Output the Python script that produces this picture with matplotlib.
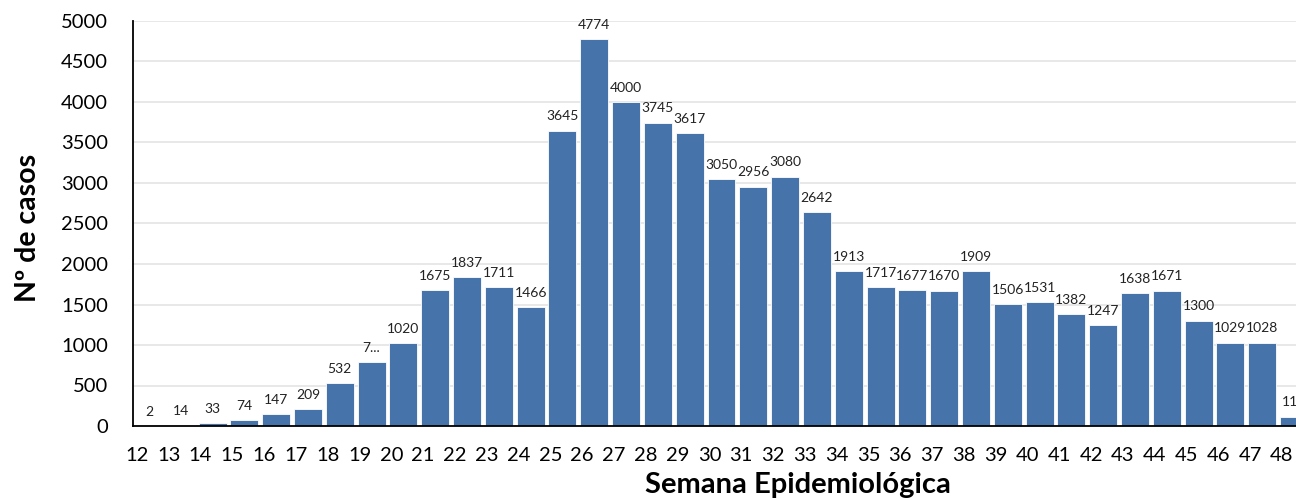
import matplotlib.pyplot as plt
import numpy as np

weeks = [str(w) for w in range(12, 49)]
cases = [2, 14, 33, 74, 147, 209, 532, 785, 1020, 1675, 1837, 1711, 1466,
         3645, 4774, 4000, 3745, 3617, 3050, 2956, 3080, 2642, 1913, 1717,
         1677, 1670, 1909, 1506, 1531, 1382, 1247, 1638, 1671, 1300, 1029,
         1028, 117]
bar_labels = [str(v) for v in cases]
bar_labels[7] = "7..."

plt.rcParams["font.family"] = ["Lato", "DejaVu Sans"]

fig = plt.figure(figsize=(12.96, 4.99), dpi=100)
ax = fig.add_axes([133 / 1296, 73 / 499, 1177 / 1296, 405 / 499])

x = np.arange(len(cases))
ax.bar(x, cases, width=0.88, color="#4673A9", edgecolor="white", linewidth=0.6, zorder=2)

for xi, v, lab in zip(x, cases, bar_labels):
    ax.annotate(lab, (xi, v), xytext=(0, 6), textcoords="offset points",
                ha="center", va="bottom", fontsize=10, color="#222222",
                annotation_clip=False)

ax.set_xlim(-0.5, len(cases) - 0.5)
ax.set_ylim(0, 5000)
ax.set_yticks(range(0, 5001, 500))
ax.set_xticks(x - 0.38)
ax.set_xticklabels(weeks)
ax.tick_params(axis="both", length=0, labelsize=14.5, colors="black")
ax.tick_params(axis="x", pad=15)
ax.tick_params(axis="y", pad=18)
ax.grid(axis="y", color="#e6e6e6", linewidth=1.3, zorder=0)
ax.set_axisbelow(True)
for s in ["top", "right"]:
    ax.spines[s].set_visible(False)
for s in ["left", "bottom"]:
    ax.spines[s].set_color("black")
    ax.spines[s].set_linewidth(1.3)

fig.text(28 / 1296, 1 - 228 / 499, "Nº de casos", rotation=90, ha="center", va="center",
         fontsize=20.5, fontweight="bold")
fig.text(798 / 1296, 1 - 485 / 499, "Semana Epidemiológica", ha="center", va="center",
         fontsize=21, fontweight="bold")

plt.savefig("out.png", dpi=100)
plt.close()
